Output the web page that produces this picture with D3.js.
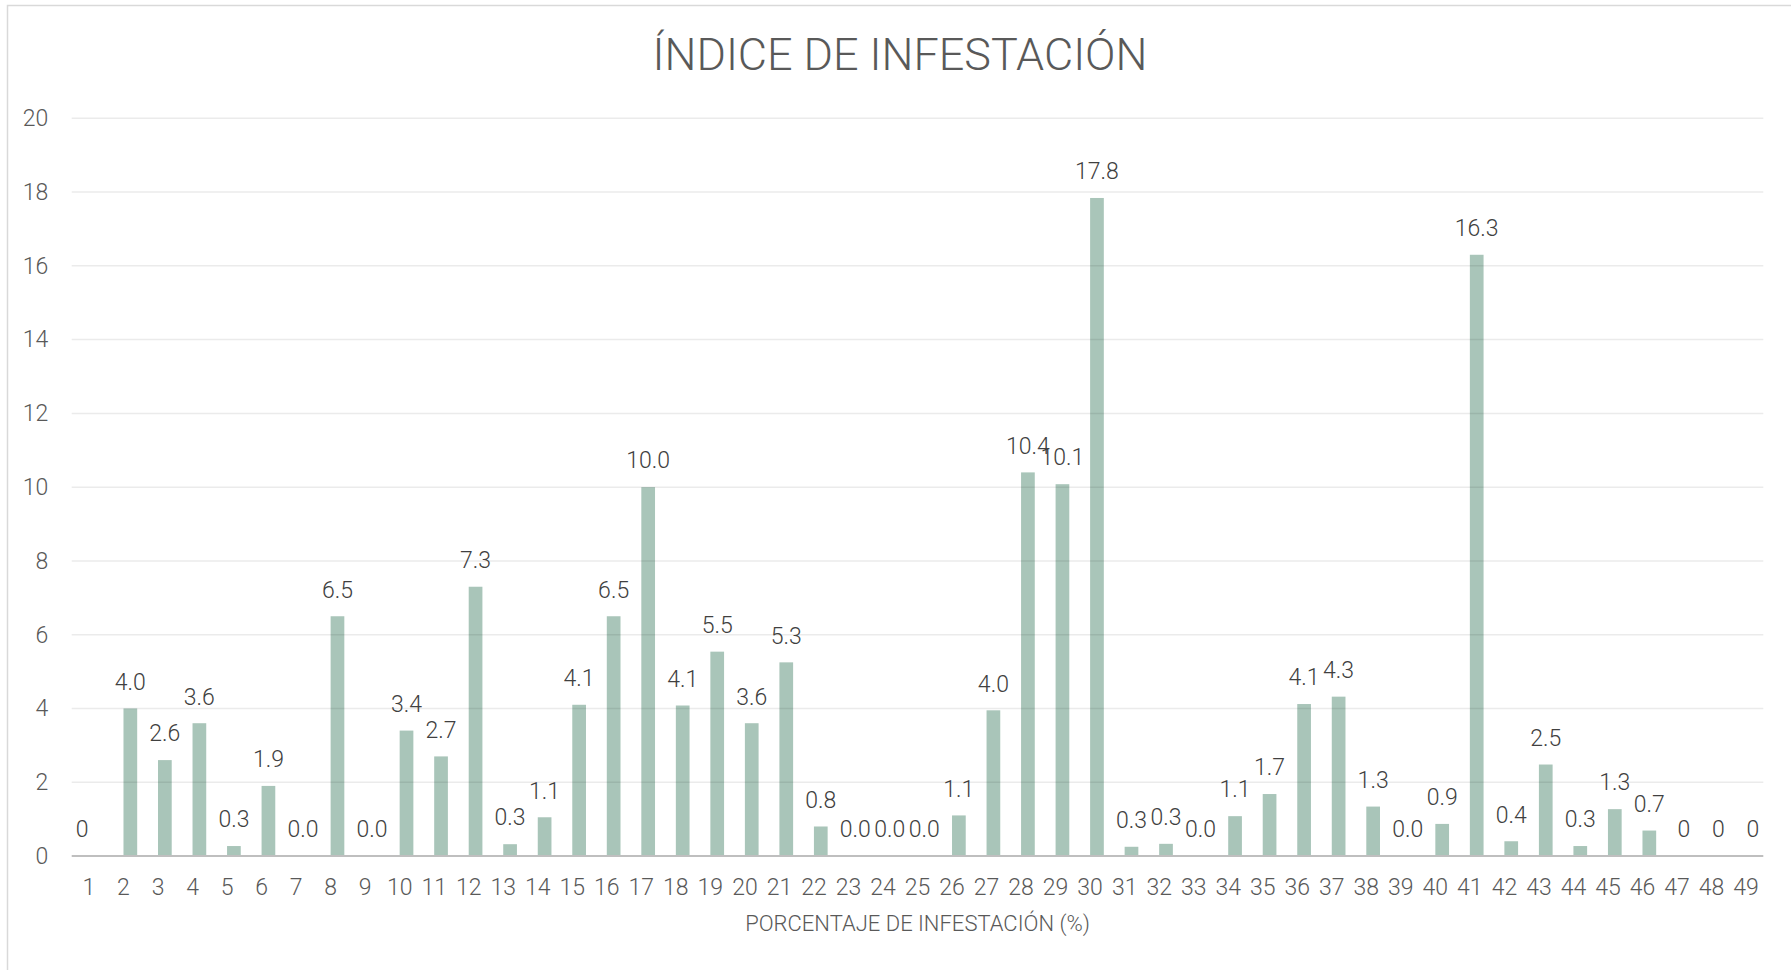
<!DOCTYPE html>
<html>
<head>
<meta charset="utf-8">
<script src="https://cdn.jsdelivr.net/npm/d3@7"></script>
<style>
  body { margin: 0; background: #fff; }
  text { font-family: Roboto, "Noto Sans", sans-serif; font-weight: 300; }
</style>
</head>
<body>
<div id="svgcontainer"></div>
<script>
// datos del grafico
var categorias = d3.range(1, 50).map(String);

// serie principal (porcentaje de infestacion), categoria 1 sin dato
var infestacion = [null, 4.0, 2.6, 3.6, 0.27, 1.9, 0.0, 6.5, 0.0, 3.4,
  2.7, 7.3, 0.32, 1.05, 4.1, 6.5, 10.0, 4.08, 5.54, 3.6,
  5.25, 0.8, 0.0, 0.0, 0.0, 1.1, 3.95, 10.4, 10.08, 17.84,
  0.25, 0.33, 0.0, 1.08, 1.68, 4.12, 4.32, 1.34, 0.0, 0.87,
  16.3, 0.4, 2.48, 0.27, 1.27, 0.69, 0, 0, 0];

// etiquetas sin decimales
var sinDecimales = ["47", "48", "49"];

// segunda serie, solo tiene etiqueta en la categoria 1
var categoriasB = ["1"];
var serieB = [0];

var yTicks = [0, 2, 4, 6, 8, 10, 12, 14, 16, 18, 20];

var svgWidth = 1791;
var svgHeight = 970;

var margin = {
  top: 118.3,
  right: 27.7,
  bottom: 114,
  left: 71.7
};

var width = svgWidth - margin.left - margin.right;
var height = svgHeight - margin.top - margin.bottom;

var svg = d3.select("#svgcontainer")
  .append("svg")
  .attr("width", svgWidth)
  .attr("height", svgHeight);

// marco del area del grafico
svg.append("rect")
  .attr("x", 7.5)
  .attr("y", 5.5)
  .attr("width", 1800)
  .attr("height", 1000)
  .attr("fill", "#fff")
  .attr("stroke", "#d9d9d9")
  .attr("stroke-width", 1.5);

var chartGroup = svg.append("g")
  .attr("transform", `translate(${margin.left}, ${margin.top})`);

var xScale = d3.scaleBand()
  .domain(categorias)
  .range([0, width])
  .paddingInner(0.206)
  .paddingOuter(0.103);

var xSub = d3.scaleBand()
  .domain(["b", "a"])
  .range([0, xScale.bandwidth()]);

var yScale = d3.scaleLinear()
  .domain([0, 20])
  .range([height, 0]);

var datos = categorias.map(function (c, i) {
  return { cat: c, valor: infestacion[i] };
}).filter(d => d.valor !== null);

var datosB = categoriasB.map(function (c, i) {
  return { cat: c, valor: serieB[i] };
});

// barras
chartGroup.selectAll("rect.bar")
  .data(datos)
  .enter()
  .append("rect")
  .attr("class", "bar")
  .attr("x", d => xScale(d.cat) + xSub("a"))
  .attr("width", xSub.bandwidth())
  .attr("y", d => yScale(d.valor))
  .attr("height", d => height - yScale(d.valor))
  .attr("fill", "#a9c5b9");

// lineas de cuadricula (encima, casi transparentes)
chartGroup.selectAll("line.grid")
  .data(yTicks.filter(t => t > 0))
  .enter()
  .append("line")
  .attr("class", "grid")
  .attr("x1", 0)
  .attr("x2", width)
  .attr("y1", d => yScale(d))
  .attr("y2", d => yScale(d))
  .attr("stroke", "rgba(0,0,0,0.08)")
  .attr("stroke-width", 1.5);

chartGroup.append("line")
  .attr("x1", 0)
  .attr("x2", width)
  .attr("y1", yScale(0))
  .attr("y2", yScale(0))
  .attr("stroke", "#bfbfbf")
  .attr("stroke-width", 2);

// ejes
var bottomAxis = d3.axisBottom(xScale).tickSize(0).tickPadding(22.5);
var leftAxis = d3.axisLeft(yScale).tickValues(yTicks).tickSize(0).tickPadding(23.5);

var xAxisG = chartGroup.append("g")
  .attr("transform", `translate(0, ${height})`)
  .call(bottomAxis);

var yAxisG = chartGroup.append("g")
  .call(leftAxis);

[xAxisG, yAxisG].forEach(function (g) {
  g.select(".domain").remove();
  g.selectAll("text")
    .attr("font-family", null)
    .attr("font-size", 23)
    .attr("fill", "#595959");
});

// etiquetas de datos
var fmt = d3.format(".1f");

chartGroup.selectAll("text.lbl")
  .data(datos)
  .enter()
  .append("text")
  .attr("class", "lbl")
  .attr("x", d => xScale(d.cat) + xSub("a") + xSub.bandwidth() / 2)
  .attr("y", d => yScale(d.valor) - 18.7)
  .attr("text-anchor", "middle")
  .attr("font-size", 23)
  .attr("fill", "#404040")
  .text(d => sinDecimales.indexOf(d.cat) >= 0 ? String(d.valor) : fmt(d.valor));

chartGroup.selectAll("text.lblB")
  .data(datosB)
  .enter()
  .append("text")
  .attr("class", "lblB")
  .attr("x", d => xScale(d.cat) + xSub("b") + xSub.bandwidth() / 2)
  .attr("y", d => yScale(d.valor) - 18.7)
  .attr("text-anchor", "middle")
  .attr("font-size", 23)
  .attr("fill", "#404040")
  .text(d => String(d.valor));

// titulos
svg.append("text")
  .attr("x", 900)
  .attr("y", 70)
  .attr("text-anchor", "middle")
  .attr("font-size", 44)
  .attr("textLength", 495)
  .attr("lengthAdjust", "spacingAndGlyphs")
  .attr("fill", "#595959")
  .text("ÍNDICE DE INFESTACIÓN");

svg.append("text")
  .attr("x", margin.left + width / 2)
  .attr("y", 931)
  .attr("text-anchor", "middle")
  .attr("font-size", 22)
  .attr("fill", "#595959")
  .text("PORCENTAJE DE INFESTACIÓN (%)");
</script>
</body>
</html>
